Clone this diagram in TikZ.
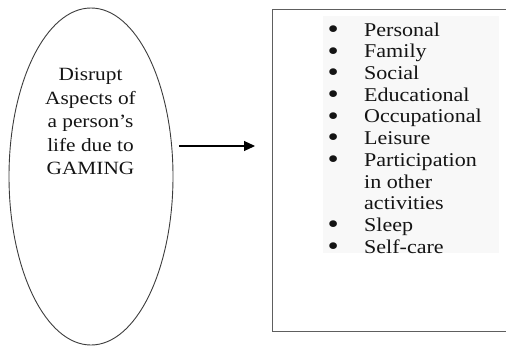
\documentclass[tikz,border=0pt]{standalone}
\usepackage{fontspec}
\usepackage{graphicx}
\setmainfont{Liberation Serif}
\usetikzlibrary{arrows.meta,shapes.geometric}
\definecolor{txt}{HTML}{141414}
\definecolor{edge}{HTML}{3C3C3C}
\definecolor{boxedge}{HTML}{5E5E5E}
\definecolor{lightbg}{HTML}{F8F8F8}
\newcommand{\bul}{\smash{\raisebox{-2.2pt}{\scalebox{1.45}{\textbullet}}}}
\tikzset{
  x=1pt, y=-1pt,
  ellnode/.style={ellipse, draw=edge, line width=0.9pt, minimum width=164pt, minimum height=337pt, inner sep=0pt},
  elltext/.style={text=txt, inner sep=0pt, font=\fontsize{18.7}{23.5}\selectfont},
  boxnode/.style={rectangle, draw=boxedge, line width=1.3pt, inner sep=0pt},
  listtext/.style={text=txt, inner sep=0pt, font=\fontsize{19.5}{21.7}\selectfont, anchor=north west},
  conn/.style={draw=black, line width=1.1pt, -{Triangle[length=11pt,width=10pt]}}
}
\begin{document}
\begin{tikzpicture}
\useasboundingbox (0,0) rectangle (506,346);
\node[ellnode] (ell) at (91,176.5) {};
\node[elltext] (elltxt) at (90.5,123) {\scalebox{1.14}[1]{\begin{tabular}{@{}c@{}}Disrupt\\Aspects of\\a person’s\\life due to\\GAMING\end{tabular}}};
\node[boxnode, anchor=north west, minimum width=238pt, minimum height=322pt] (box) at (272,9) {};
\fill[lightbg] (323,16) rectangle (499,253);
\node[listtext] (list) at (327.5,20.8) {\scalebox{1.13}[1]{%
\begin{tabular}{@{}p{32.3pt}@{}l@{}}
\bul & Personal\\
\bul & Family\\
\bul & Social\\
\bul & Educational\\
\bul & Occupational\\
\bul & Leisure\\
\bul & Participation\\
 & in other\\
 & activities\\
\bul & Sleep\\
\bul & Self-care
\end{tabular}}};
\coordinate (a1) at (179,146);
\coordinate (a2) at (255,146);
\draw[conn] (a1) -- (a2);
\end{tikzpicture}
\end{document}
